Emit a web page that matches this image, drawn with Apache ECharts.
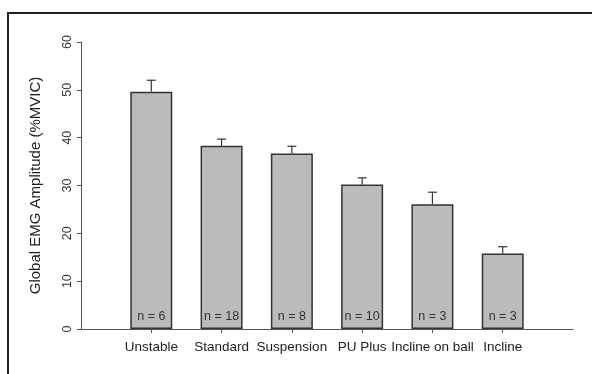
<!DOCTYPE html>
<html><head><meta charset="utf-8">
<script src="https://cdn.jsdelivr.net/npm/echarts@6/dist/echarts.min.js"></script>
<style>html,body{margin:0;padding:0;background:#fff}#c{width:592px;height:374px}</style>
</head><body><div id="c"></div>
<script>
var categories = ['Unstable', 'Standard', 'Suspension', 'PU Plus', 'Incline on ball', 'Incline'];
var means = [49.6, 38.3, 36.7, 30.2, 26.1, 15.8];
var errTops = [52.0, 39.7, 38.2, 31.6, 28.6, 17.2];
var nLabels = ['n = 6', 'n = 18', 'n = 8', 'n = 10', 'n = 3', 'n = 3'];
var yTicks = [0, 10, 20, 30, 40, 50, 60];

var cats = [''].concat(categories).concat(['']);
var barData = [null].concat(means).concat([null]);
var errData = categories.map(function (c, i) { return [i + 1, means[i], errTops[i]]; });
var FONT = 'Liberation Sans, Arial, sans-serif';

var chart = echarts.init(document.getElementById('c'));
chart.setOption({
  animation: false,
  grid: { left: 81, right: 19, top: 42, bottom: 45 },
  graphic: [{
    type: 'rect', shape: { x: 8, y: 13, width: 700, height: 500 },
    style: { fill: 'none', stroke: '#231f20', lineWidth: 2 }, z: 100
  }],
  xAxis: {
    type: 'category', data: cats, boundaryGap: false,
    axisLine: { lineStyle: { color: '#555', width: 1 } },
    axisTick: { length: 4, lineStyle: { color: '#555' }, interval: function (i, v) { return v !== ''; } },
    axisLabel: { color: '#222', fontSize: 13.5, fontFamily: FONT, margin: 11, interval: 0 },
    splitLine: { show: false }
  },
  yAxis: {
    type: 'value', min: yTicks[0], max: yTicks[yTicks.length - 1], interval: 10,
    name: 'Global EMG Amplitude (%MVIC)', nameLocation: 'middle', nameGap: 38,
    nameTextStyle: { color: '#222', fontSize: 15, fontFamily: FONT },
    axisLine: { show: true, lineStyle: { color: '#555', width: 1 } },
    axisTick: { show: true, length: 4, lineStyle: { color: '#555' } },
    axisLabel: { color: '#333', fontSize: 12.5, fontFamily: FONT, rotate: 90, margin: 7 },
    splitLine: { show: false }
  },
  series: [{
    type: 'bar', data: barData, barWidth: 42,
    itemStyle: { color: '#bbbbbb', borderColor: '#333', borderWidth: 1.5 },
    label: {
      show: true, position: 'insideBottom', distance: 6,
      color: '#333', fontSize: 12.5, fontFamily: FONT,
      formatter: function (p) { return nLabels[p.dataIndex - 1] || ''; }
    }
  }, {
    type: 'custom', data: errData,
    renderItem: function (params, api) {
      var b = api.coord([api.value(0), api.value(1)]);
      var t = api.coord([api.value(0), api.value(2)]);
      return {
        type: 'group', children: [
          { type: 'line', shape: { x1: b[0], y1: b[1], x2: t[0], y2: t[1] }, style: { stroke: '#333', lineWidth: 1.2 } },
          { type: 'line', shape: { x1: t[0] - 4.5, y1: t[1], x2: t[0] + 4.5, y2: t[1] }, style: { stroke: '#333', lineWidth: 1.2 } }
        ]
      };
    },
    z: 3
  }]
});
</script></body></html>
